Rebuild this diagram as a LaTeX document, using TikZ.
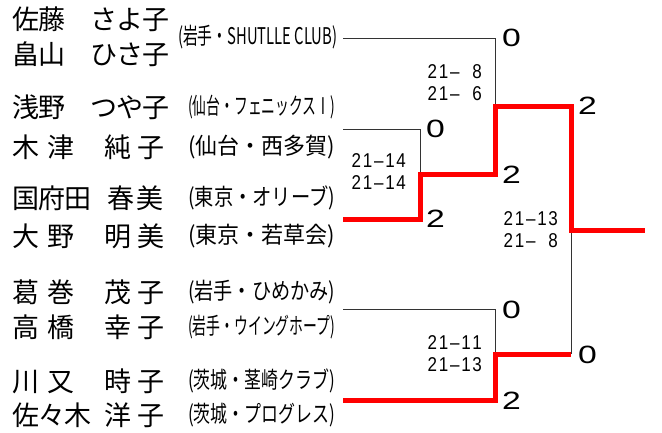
\documentclass[tikz,border=0pt]{standalone}
\usepackage{fontspec}
\usepackage{graphicx}
\setmainfont{Liberation Sans}
\newfontfamily\jp{Noto Sans CJK JP}
\newcommand\nc[2]{\rlap{\hspace*{#1pt}#2}}
\newcommand\dg[1]{\makebox[11.2pt]{\scalebox{0.85}[1]{#1}}}
\newcommand\scr[5]{\dg{#1}\dg{#2}\dg{#3}\dg{#4}\dg{#5}}
\newcommand\tm[2][147]{\resizebox{#1pt}{\height}{#2}}
\newcommand\widedig[1]{\scalebox{1.35}[1]{#1}}
\begin{document}
\begin{tikzpicture}[x=1pt,y=-1pt,
  player/.style={anchor=west,inner sep=0,font=\jp\fontsize{27}{28}\selectfont},
  team/.style={anchor=west,inner sep=0,font=\jp\fontsize{23}{24}\selectfont},
  res/.style={anchor=west,inner sep=0,font=\fontsize{25}{25}\selectfont},
  games/.style={anchor=east,inner sep=0,align=right,font=\fontsize{20}{22}\selectfont},
  win/.style={draw=red,line width=5pt,line join=miter},
  lose/.style={draw=black!80,line width=1pt}]
\useasboundingbox[fill=white] (0,0) rectangle (662,432);
% players
\node[player] (n1) at (0,19) {\nc{12}{佐}\nc{38}{藤}\nc{90}{さ}\nc{116}{よ}\nc{142}{子}};
\node[player] (n2) at (0,54) {\nc{12}{畠}\nc{38}{山}\nc{90}{ひ}\nc{116}{さ}\nc{142}{子}};
\node[player] (n3) at (0,107) {\nc{12}{浅}\nc{38}{野}\nc{90}{つ}\nc{116}{や}\nc{142}{子}};
\node[player] (n4) at (0,147) {\nc{12}{木}\nc{47}{津}\nc{104}{純}\nc{137}{子}};
\node[player] (n5) at (0,198) {\nc{12}{国}\nc{38}{府}\nc{64}{田}\nc{107}{春}\nc{136}{美}};
\node[player] (n6) at (0,236) {\nc{12}{大}\nc{47}{野}\nc{104}{明}\nc{137}{美}};
\node[player] (n7) at (0,292) {\nc{12}{葛}\nc{47}{巻}\nc{104}{茂}\nc{137}{子}};
\node[player] (n8) at (0,327) {\nc{12}{高}\nc{47}{橋}\nc{104}{幸}\nc{137}{子}};
\node[player] (n9) at (0,381) {\nc{12}{川}\nc{47}{又}\nc{104}{時}\nc{137}{子}};
\node[player] (n10) at (0,415) {\nc{12}{佐}\nc{38}{々}\nc{64}{木}\nc{104}{洋}\nc{137}{子}};
% teams
\node[team] (t1) at (178,37) {\tm[159]{(岩手・SHUTLLE CLUB)}};
\node[team] (t3) at (188,107) {\tm{(仙台・フェニックスⅠ)}};
\node[team] (t4) at (188,147) {\tm{(仙台・西多賀)}};
\node[team] (t5) at (188,198) {\tm{(東京・オリーブ)}};
\node[team] (t6) at (188,236) {\tm{(東京・若草会)}};
\node[team] (t7) at (188,292) {\tm{(岩手・ひめかみ)}};
\node[team] (t8) at (188,327) {\tm{(岩手・ウイングホープ)}};
\node[team] (t9) at (188,381) {\tm{(茨城・茎崎クラブ)}};
\node[team] (t10) at (188,415) {\tm{(茨城・プログレス)}};
% bracket points
\coordinate (a1) at (343,38);  \coordinate (a2) at (343,129);
\coordinate (a3) at (343,219); \coordinate (a4) at (343,309);
\coordinate (a5) at (343,400);
\coordinate (b1) at (495,38);  \coordinate (b1d) at (495,106);
\coordinate (b2) at (420,129); \coordinate (b2d) at (420,174);
\coordinate (b3) at (420,219); \coordinate (b3u) at (495,174);
\coordinate (b4) at (495,309); \coordinate (b4d) at (495,354);
\coordinate (b5) at (495,400);
\coordinate (c1) at (571,106); \coordinate (c1d) at (571,230);
\coordinate (c2) at (571,354); \coordinate (fin) at (645,230);
% losing lines
\path[lose] (a1) -- (b1) -- (b1d);
\path[lose] (a2) -- (b2) -- (b2d);
\path[lose] (a4) -- (b4) -- (b4d);
\path[lose] (c1d) -- (c2);
% winning lines
\path[win] (a3) -- (b3) -- (b2d) -- (b3u) -- (b1d) -- (c1) -- (c1d) -- (fin);
\path[win] (a5) -- (b5) -- (b4d) -- (c2);
% results
\node[res] (r1) at (502,38) {\widedig{0}};
\node[res] (r2) at (426,129) {\widedig{0}};
\node[res] (r3) at (426,219) {\widedig{2}};
\node[res] (r4) at (502,175) {\widedig{2}};
\node[res] (r5) at (578,106) {\widedig{2}};
\node[res] (r6) at (502,310) {\widedig{0}};
\node[res] (r7) at (502,401) {\widedig{2}};
\node[res] (r8) at (578,355) {\widedig{0}};
% game scores
\node[games] (g1) at (483,83) {\scr21{–}{}8\\\scr21{–}{}6};
\node[games] (g2) at (407,172) {\scr21{–}14\\\scr21{–}14};
\node[games] (g3) at (559,230) {\scr21{–}13\\\scr21{–}{}8};
\node[games] (g4) at (483,354) {\scr21{–}11\\\scr21{–}13};
\end{tikzpicture}
\end{document}
